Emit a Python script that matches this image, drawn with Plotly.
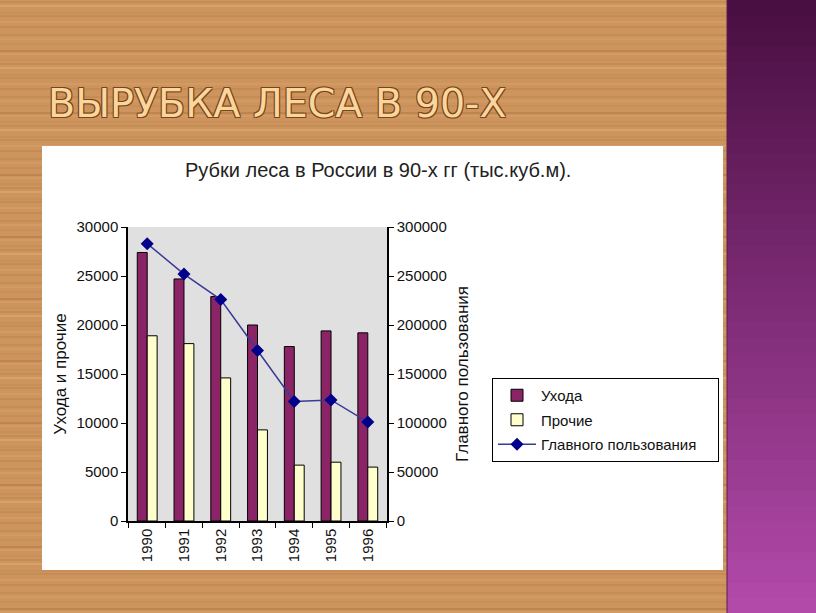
import plotly.graph_objects as go

# ---- data ----
years = ["1990", "1991", "1992", "1993", "1994", "1995", "1996"]
ukhoda = [27400, 24700, 22900, 20000, 17800, 19400, 19200]
prochie = [18900, 18100, 14600, 9300, 5700, 6000, 5500]
glavnoe = [283000, 252000, 226000, 174000, 122000, 123500, 101000]
left_ticks = [0, 5000, 10000, 15000, 20000, 25000, 30000]
right_ticks = [0, 50000, 100000, 150000, 200000, 250000, 300000]

slide_title = "ВЫРУБКА ЛЕСА В 90-Х"
chart_title = "Рубки леса в России в 90-х гг (тыс.куб.м)."
left_title = "Ухода и прочие"
right_title = "Главного пользования"

W, H = 816, 613


def px(x):
    return x / W


def py(y):
    return 1 - y / H


FONT = "Liberation Sans, Arial, sans-serif"
PAD = "\u00a0" * 4

fig = go.Figure()
fig.add_trace(go.Bar(
    x=years, y=ukhoda, name="Ухода",
    marker=dict(color="#8a2466", line=dict(color="black", width=1)),
    legendgroup="a",
))
fig.add_trace(go.Bar(
    x=years, y=prochie, name="Прочие",
    marker=dict(color="#ffffcc", line=dict(color="black", width=1)),
    legendgroup="b",
))
fig.add_trace(go.Scatter(
    x=years, y=glavnoe, name="Главного пользования" + PAD, yaxis="y2",
    mode="lines+markers",
    line=dict(color="#3a3a98", width=1.5),
    marker=dict(symbol="diamond", size=10, color="#00008b"),
    legendgroup="c",
))

shapes = []
# wood grain streaks (decorative)
gaps = [4, 7, 3, 6, 5, 8, 4, 5, 7, 3, 6, 4]
grain_cols = ["rgba(150,95,45,0.28)", "rgba(238,195,140,0.30)", "rgba(165,105,55,0.22)"]
yy = 2
k = 0
while yy < H:
    shapes.append(dict(type="line", xref="paper", yref="paper",
                       x0=0, x1=1, y0=py(yy), y1=py(yy),
                       line=dict(color=grain_cols[k % 3], width=1 + (k % 4 == 1)),
                       layer="below"))
    yy += gaps[k % len(gaps)]
    k += 1
# purple stripe gradient on the right
top_c = (74, 15, 66)
bot_c = (178, 74, 170)
n = 40
for i in range(n):
    t = i / (n - 1)
    c = tuple(int(top_c[j] + (bot_c[j] - top_c[j]) * t) for j in range(3))
    shapes.append(dict(
        type="rect", xref="paper", yref="paper",
        x0=px(727), x1=1.0,
        y0=max(0, py(H * (i + 1) / n + 1)), y1=py(H * i / n),
        fillcolor="rgb(%d,%d,%d)" % c, line=dict(width=0), layer="below",
    ))
shapes.append(dict(type="line", xref="paper", yref="paper",
                   x0=px(727), x1=px(727), y0=0, y1=1,
                   line=dict(color="#5a1a50", width=1), layer="below"))
# white chart panel
shapes.append(dict(type="rect", xref="paper", yref="paper",
                   x0=px(42), x1=px(723), y0=py(570), y1=py(146),
                   fillcolor="white", line=dict(width=0), layer="below"))
# grey plot area
shapes.append(dict(type="rect", xref="x domain", yref="y domain",
                   x0=0, x1=1, y0=0, y1=1,
                   fillcolor="#e0e0e0", line=dict(width=0), layer="below"))

fig.update_layout(
    width=W, height=H,
    margin=dict(l=0, r=0, t=0, b=0, autoexpand=False),
    paper_bgcolor="#cd955d",
    plot_bgcolor="rgba(0,0,0,0)",
    font=dict(family=FONT, color="#111111", size=15),
    barmode="group",
    bargap=0.46,
    bargroupgap=0.0,
    shapes=shapes,
    xaxis=dict(
        domain=[px(128), px(387)],
        type="category",
        tickangle=-90,
        tickson="boundaries",
        ticks="outside", ticklen=5, tickcolor="black",
        showline=True, linecolor="black", linewidth=1.5,
        showgrid=False, automargin=False,
        tickfont=dict(size=15),
    ),
    yaxis=dict(
        domain=[py(521), py(227)],
        range=[0, 30000],
        tickvals=left_ticks,
        ticktext=[str(v) for v in left_ticks],
        ticks="outside", ticklen=5, tickcolor="black",
        showline=True, linecolor="black", linewidth=1.5,
        showgrid=False, zeroline=False, automargin=False,
        tickfont=dict(size=15),
        title=dict(text=left_title, font=dict(size=17), standoff=6),
    ),
    yaxis2=dict(
        overlaying="y", side="right", anchor="x",
        range=[0, 300000],
        tickvals=right_ticks,
        ticktext=[str(v) for v in right_ticks],
        ticks="outside", ticklen=5, tickcolor="black",
        showline=True, linecolor="black", linewidth=1.5,
        showgrid=False, zeroline=False, automargin=False,
        tickfont=dict(size=15),
        title=dict(text=right_title, font=dict(size=17), standoff=10),
    ),
    legend=dict(
        x=px(492), y=py(378), xanchor="left", yanchor="top",
        bgcolor="white", bordercolor="black", borderwidth=1,
        font=dict(size=15),
        traceorder="grouped", tracegroupgap=2,
        itemwidth=38,
    ),
    annotations=[
        dict(text=slide_title, xref="paper", yref="paper",
             x=px(46), y=py(103), xanchor="left", yanchor="middle",
             showarrow=False,
             font=dict(family="DejaVu Sans, sans-serif", size=39.6, color="#f8d69e",
                       shadow="-1px -1px 0 #7a4418, 1px -1px 0 #7a4418, -1px 1px 0 #7a4418, 1px 1px 0 #7a4418")),
        dict(text=chart_title, xref="paper", yref="paper",
             x=px(378), y=py(170), xanchor="center", yanchor="middle",
             showarrow=False, font=dict(size=20, color="#222222")),
    ],
)

fig.write_html("out.html", config={"displayModeBar": False},
               post_script="document.body.style.margin='0';document.body.style.overflow='hidden';")
